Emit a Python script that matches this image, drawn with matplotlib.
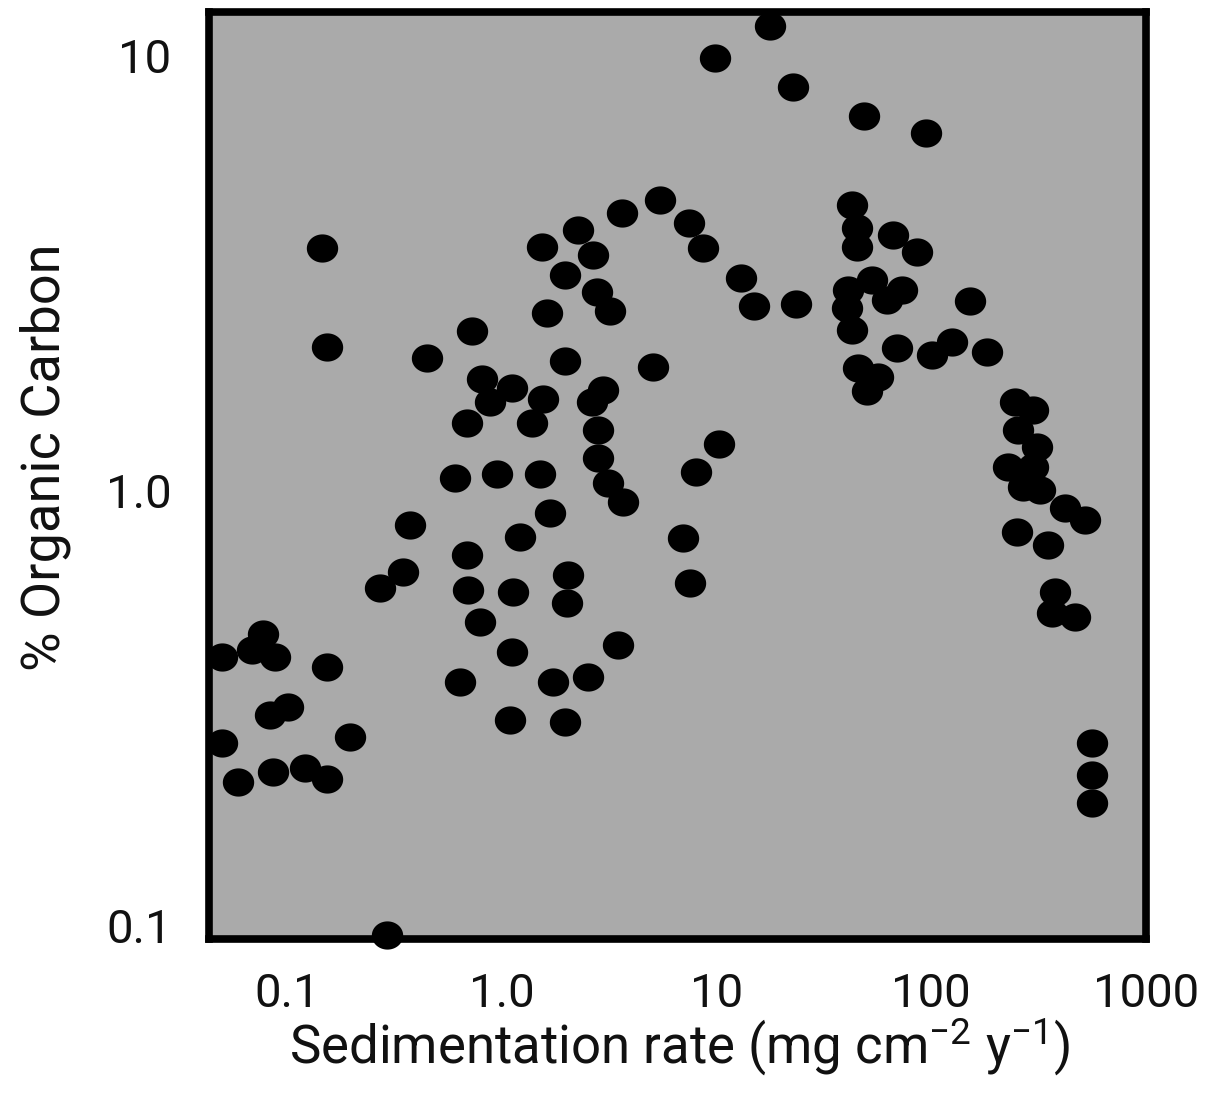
import numpy as np
import matplotlib
matplotlib.use("Agg")
import matplotlib.pyplot as plt

plt.rcParams['font.family'] = ['Roboto', 'DejaVu Sans']
plt.rcParams['mathtext.fontset'] = 'custom'
plt.rcParams['mathtext.rm'] = 'Roboto'
plt.rcParams['mathtext.default'] = 'regular'

# sedimentation rate (mg cm-2 y-1) and % organic carbon, one entry per sample
sed_rate = [
    0.050, 0.069, 0.077, 0.088, 0.154, 0.101, 0.083, 0.197, 0.050, 0.059,
    0.086, 0.121, 0.154, 0.146, 0.154, 0.292,
    0.449, 0.727, 1.54, 2.27, 2.66, 1.97, 2.78, 3.19, 1.63, 1.97,
    3.63, 5.46, 5.07, 0.809, 0.882, 1.12, 0.689, 1.56, 1.38, 2.96,
    2.63, 2.81, 2.81, 3.13, 3.67, 0.606, 0.951, 1.51, 1.68, 1.22,
    0.374, 0.347, 0.271, 0.689, 0.697, 1.13, 2.04, 2.01, 0.792, 1.12,
    3.48, 0.639, 1.73, 2.52, 1.09, 1.97,
    17.8, 9.84, 22.7, 48.7, 94.6, 7.45, 8.66, 13.0, 15.0, 23.5,
    10.3, 8.03, 6.99, 7.53,
    42.8, 45.1, 45.1, 66.4, 85.9, 41.0, 53.0, 73.1, 62.3, 40.5,
    42.8, 152, 69.3, 101, 125, 182, 45.6, 56.5, 50.2,
    246, 298, 254, 311, 228, 298, 268, 321, 420, 520,
    251, 350, 377, 365, 467, 561, 561, 561,
]
org_carbon = [
    0.414, 0.430, 0.467, 0.414, 0.393, 0.318, 0.304, 0.271, 0.262, 0.213,
    0.225, 0.230, 0.217, 3.61, 2.14, 0.095,
    2.02, 2.32, 3.63, 3.98, 3.48, 3.13, 2.86, 2.58, 2.56, 1.98,
    4.35, 4.66, 1.92, 1.80, 1.60, 1.72, 1.43, 1.62, 1.43, 1.70,
    1.60, 1.38, 1.19, 1.04, 0.941, 1.07, 1.09, 1.09, 0.888, 0.782,
    0.833, 0.649, 0.596, 0.711, 0.590, 0.584, 0.639, 0.551, 0.498, 0.425,
    0.441, 0.362, 0.362, 0.372, 0.296, 0.293,
    11.7, 9.89, 8.48, 7.28, 6.65, 4.11, 3.61, 3.08, 2.66, 2.69,
    1.28, 1.10, 0.777, 0.612,
    4.54, 4.02, 3.63, 3.87, 3.54, 2.89, 3.05, 2.89, 2.74, 2.63,
    2.34, 2.72, 2.13, 2.05, 2.19, 2.08, 1.91, 1.82, 1.69,
    1.60, 1.53, 1.38, 1.26, 1.13, 1.13, 1.02, 1.00, 0.911, 0.855,
    0.802, 0.749, 0.584, 0.523, 0.512, 0.262, 0.221, 0.191,
]

x_ticks = [0.1, 1, 10, 100, 1000]
x_ticklabels = ["0.1", "1.0", "10", "100", "1000"]
y_ticks = [0.1, 1, 10]
y_ticklabels = ["0.1", "1.0", "10"]

fig = plt.figure(figsize=(12.16, 10.98), dpi=100)
ax = fig.add_axes([0.1719, 0.1448, 0.7705, 0.8443])
ax.set_facecolor("#aaaaaa")

# slightly flattened dots
t = np.linspace(0, 2 * np.pi, 64)
dot = np.column_stack([np.cos(t), 0.9 * np.sin(t)])
ax.scatter(sed_rate, org_carbon, marker=dot, s=510, c="black",
           linewidths=0, zorder=3, clip_on=False)

ax.set_xscale("log")
ax.set_yscale("log")
ax.set_xlim(0.0433, 1001)
ax.set_ylim(0.0929, 12.6)
ax.minorticks_off()

ax.set_xticks(x_ticks)
ax.set_xticklabels(x_ticklabels)
ax.set_yticks(y_ticks)
ax.set_yticklabels(y_ticklabels)
ax.tick_params(length=0, labelsize=34, colors="#111111")
ax.tick_params(axis="x", pad=24)
ax.tick_params(axis="y", pad=27)

for sp in ax.spines.values():
    sp.set_linewidth(5.5)
    sp.set_color("black")

fig.text(0.559, 0.047, "Sedimentation rate (mg cm$^{-2}$ y$^{-1}$)",
         ha="center", va="center", fontsize=38, color="#111111")
fig.text(0.037, 0.584, "% Organic Carbon", rotation=90,
         ha="center", va="center", fontsize=39, color="#111111")

fig.savefig("out.png", dpi=100)
